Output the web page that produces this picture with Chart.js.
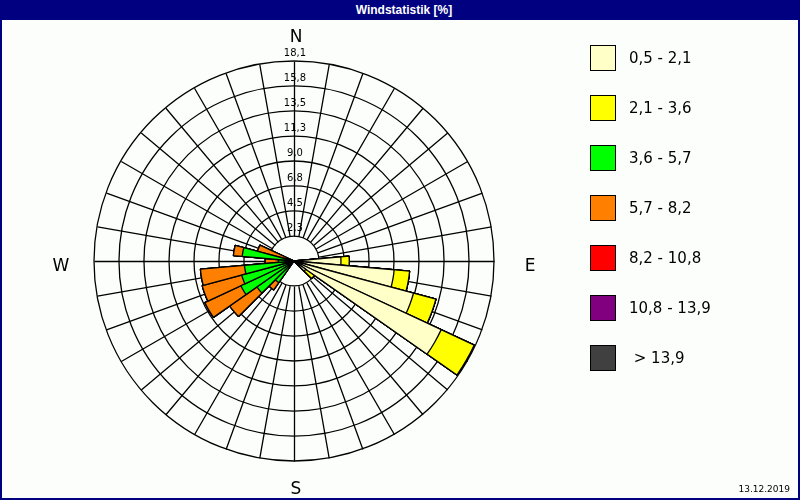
<!DOCTYPE html>
<html lang="de">
<head>
<meta charset="utf-8">
<title>Windstatistik</title>
<script src="https://cdn.jsdelivr.net/npm/chart.js@4.4.1/dist/chart.umd.min.js"></script>
<style>
  body { margin: 0; }
  #page { position: relative; width: 800px; height: 500px; background: #fcfefc; overflow: hidden; font-family: "DejaVu Sans", sans-serif; color: #000; }
  #rose { position: absolute; left: 0; top: 0; }
  #titlebar { position: absolute; left: 0; top: 0; width: 800px; height: 20px; box-sizing: border-box; padding-left: 8px; background: #000080; color: #fff; font: bold 12px "Liberation Sans Narrow", "Liberation Sans", sans-serif; line-height: 20px; text-align: center; }
  #frame { position: absolute; left: 0; top: 0; width: 800px; height: 500px; box-sizing: border-box; border: 2px solid #000080; pointer-events: none; }
  .compass { position: absolute; font-size: 17px; transform: translate(-50%, -50%); }
  .legend-row { position: absolute; left: 590px; width: 200px; height: 26px; }
  .legend-box { position: absolute; left: 0; top: 0; width: 24px; height: 24px; border: 1px solid #000; }
  .legend-text { position: absolute; left: 39px; top: 0; line-height: 26px; font-size: 15px; white-space: pre; }
  #date { position: absolute; right: 10px; top: 483px; font-size: 9px; line-height: 12px; }
</style>
</head>
<body>
<div id="page">
  <canvas id="rose" width="800" height="500"></canvas>
  <div id="titlebar">Windstatistik [%]</div>
  <div class="compass" style="left:296px; top:36px;">N</div>
  <div class="compass" style="left:530px; top:265px;">E</div>
  <div class="compass" style="left:296px; top:488px;">S</div>
  <div class="compass" style="left:61px; top:265px;">W</div>
  <div id="legend"></div>
  <div id="date">13.12.2019</div>
  <div id="frame"></div>
</div>
<script>
// 10° sectors, clockwise from north
const directions = ["0", "10", "20", "30", "40", "50", "60", "70", "80", "90", "100", "110",
                    "120", "130", "140", "150", "160", "170", "180", "190", "200", "210", "220", "230",
                    "240", "250", "260", "270", "280", "290", "300", "310", "320", "330", "340", "350"];

const classLabels = ["0,5 - 2,1", "2,1 - 3,6", "3,6 - 5,7", "5,7 - 8,2", "8,2 - 10,8", "10,8 - 13,9", " > 13,9"];
const classColors = ["#ffffc8", "#ffff00", "#00ff00", "#ff8000", "#ff0000", "#800080", "#404040"];

// frequency in % per sector and speed class
const speed05to21 = [0, 0, 0, 0, 0, 0, 0, 0, 0, 4.25, 9.1, 11.2,
                     14.7, 1.3, 0, 0, 0, 0, 0, 0, 0, 0, 0, 0,
                     0, 0, 0, 0, 0, 0, 0, 0, 0, 0, 0, 0];
const speed21to36 = [0, 0, 0, 0, 0, 0, 0, 0, 0, 0.75, 1.4, 2.1,
                     3.3, 0.95, 0, 0, 0, 0, 0, 0, 0, 0, 0, 0,
                     0, 0, 0, 0, 0, 0, 0, 0, 0, 0, 0, 0];
const speed36to57 = [0, 0, 0, 0, 0, 0, 0, 0, 0, 0, 0, 0,
                     0, 0, 0, 0, 0, 0, 0, 0, 0, 0, 2.4, 4.1,
                     5.3, 4.9, 4.5, 1.4, 4.7, 0, 0, 0, 0, 0, 0, 0];
const speed57to82 = [0, 0, 0, 0, 0, 0, 0, 0, 0, 0, 0, 0,
                     0, 0, 0, 0, 0, 0, 0, 0, 0, 0, 0.8, 3.0,
                     3.6, 3.7, 4.0, 1.2, 0.8, 3.4, 0, 0, 0, 0, 0, 0];
const speed82to108 = [0, 0, 0, 0, 0, 0, 0, 0, 0, 0, 0, 0,
                      0, 0, 0, 0, 0, 0, 0, 0, 0, 0, 0, 0,
                      0, 0, 0, 0, 0, 0, 0, 0, 0, 0, 0, 0];
const speed108to139 = [0, 0, 0, 0, 0, 0, 0, 0, 0, 0, 0, 0,
                       0, 0, 0, 0, 0, 0, 0, 0, 0, 0, 0, 0,
                       0, 0, 0, 0, 0, 0, 0, 0, 0, 0, 0, 0];
const speedOver139 = [0, 0, 0, 0, 0, 0, 0, 0, 0, 0, 0, 0,
                      0, 0, 0, 0, 0, 0, 0, 0, 0, 0, 0, 0,
                      0, 0, 0, 0, 0, 0, 0, 0, 0, 0, 0, 0];

const tickValues = [0, 2.26, 4.53, 6.79, 9.05, 11.31, 13.58, 15.84, 18.1];
const tickLabels = ["", "2,3", "4,5", "6,8", "9,0", "11,3", "13,5", "15,8", "18,1"];

// legend
const legend = document.getElementById("legend");
classLabels.forEach(function (text, i) {
    const row = document.createElement("div");
    row.className = "legend-row";
    row.style.top = (45 + i * 50) + "px";
    row.innerHTML = '<div class="legend-box" style="background:' + classColors[i] + '"></div>' +
                    '<div class="legend-text"></div>';
    row.querySelector(".legend-text").textContent = text;
    legend.appendChild(row);
});

// stacked rose: each dataset holds the running sum, inner classes drawn on top
const series = [speed05to21, speed21to36, speed36to57, speed57to82, speed82to108, speed108to139, speedOver139];
let running = directions.map(() => 0);
const datasets = series.map(function (values, k) {
    running = running.map((sum, i) => sum + values[i]);
    return {
        label: classLabels[k],
        data: running.slice(),
        backgroundColor: classColors[k],
        borderColor: "#000",
        borderWidth: 1.3,
    };
});

const roseGrid = {
    id: "roseGrid",
    beforeDatasetsDraw(chart) {
        const r = chart.scales.r;
        const ctx = chart.ctx;
        const inner = r.getDistanceFromCenterForValue(tickValues[1]);
        const outer = r.getDistanceFromCenterForValue(r.max);
        ctx.save();
        ctx.strokeStyle = "#000";
        ctx.lineWidth = 1.3;
        ctx.beginPath();
        for (let k = 0; k < directions.length; k++) {
            const a = (k * 2 * Math.PI) / directions.length - Math.PI / 2;
            ctx.moveTo(r.xCenter + 0.5 + Math.cos(a) * inner, r.yCenter + 0.5 + Math.sin(a) * inner);
            ctx.lineTo(r.xCenter + 0.5 + Math.cos(a) * outer, r.yCenter + 0.5 + Math.sin(a) * outer);
        }
        ctx.stroke();
        ctx.restore();
    },
    afterDatasetsDraw(chart) {
        const r = chart.scales.r;
        const ctx = chart.ctx;
        ctx.save();
        ctx.font = "10px 'DejaVu Sans'";
        ctx.fillStyle = "#000";
        ctx.textAlign = "center";
        ctx.textBaseline = "alphabetic";
        tickValues.forEach(function (v, i) {
            if (i === 0) return;
            const d = r.getDistanceFromCenterForValue(v);
            ctx.fillText(tickLabels[i], r.xCenter + 1, r.yCenter - d - 5);
        });
        ctx.restore();
    },
};

const ctx = document.getElementById("rose").getContext("2d");
new Chart(ctx, {
    type: "polarArea",
    data: {
        labels: directions,
        datasets: datasets,
    },
    options: {
        responsive: false,
        animation: false,
        layout: { padding: { left: 94, top: 61, right: 306, bottom: 39 } },
        plugins: {
            legend: { display: false },
        },
        scales: {
            r: {
                min: 0,
                max: 18.1,
                startAngle: -5,
                afterBuildTicks: function (scale) {
                    scale.ticks = tickValues.map((v) => ({ value: v }));
                },
                ticks: { display: false },
                grid: { circular: true, color: "#000", lineWidth: 1.3 },
                angleLines: { display: false },
                pointLabels: { display: false },
            },
        },
    },
    plugins: [roseGrid],
});
</script>
</body>
</html>
